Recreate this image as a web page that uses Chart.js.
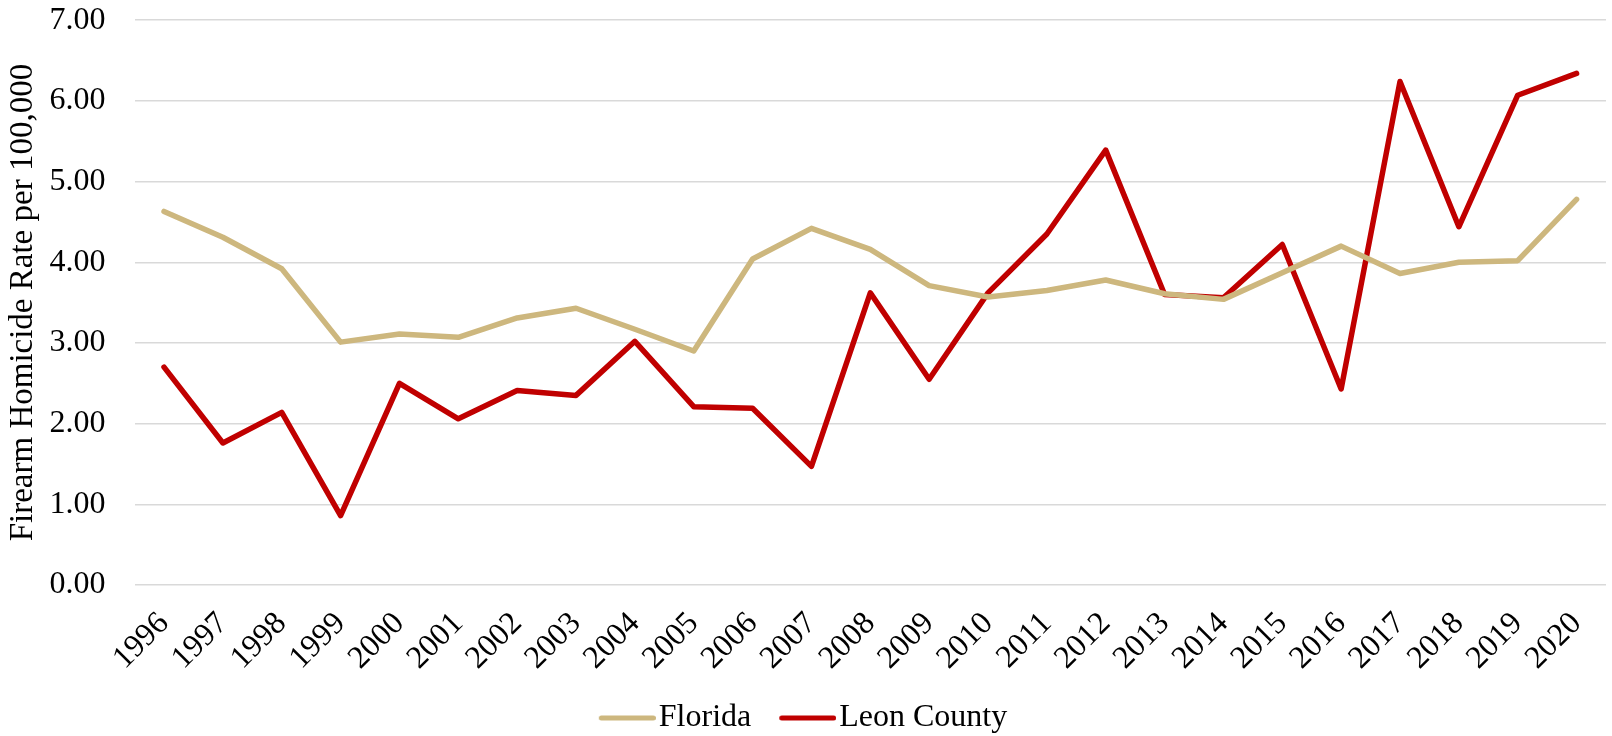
<!DOCTYPE html>
<html>
<head>
<meta charset="utf-8">
<script src="https://cdn.jsdelivr.net/npm/chart.js@4.4.1/dist/chart.umd.min.js"></script>
<style>
  html, body { margin: 0; padding: 0; background: #ffffff; }
  #wrap { width: 1612px; height: 736px; }
</style>
</head>
<body>
<div id="wrap"><canvas id="c" width="1612" height="736"></canvas></div>
<script>
const years = ["1996","1997","1998","1999","2000","2001","2002","2003","2004","2005","2006","2007","2008","2009","2010","2011","2012","2013","2014","2015","2016","2017","2018","2019","2020"];
const florida = [4.63,4.31,3.92,3.01,3.11,3.07,3.31,3.43,3.17,2.90,4.04,4.42,4.16,3.71,3.57,3.65,3.78,3.61,3.54,3.87,4.20,3.86,4.00,4.02,4.78];
const leonCounty = [2.70,1.76,2.14,0.86,2.50,2.06,2.41,2.35,3.02,2.21,2.19,1.47,3.62,2.55,3.62,4.35,5.39,3.60,3.56,4.22,2.43,6.24,4.44,6.07,6.34];
const yTicks = ["0.00","1.00","2.00","3.00","4.00","5.00","6.00","7.00"];
const seriesNames = ["Florida","Leon County"];
const axisTitle = "Firearm Homicide Rate per 100,000";

const FONT = "'Liberation Serif', 'Times New Roman', serif";
const GOLD = "#CDB77E";
const RED = "#C00000";

// legend swatch: a short thick line, placed so the text sits close to it
function legendSwatch(color) {
  const c = document.createElement('canvas');
  c.width = 70; c.height = 10;
  const g = c.getContext('2d');
  g.strokeStyle = color;
  g.lineWidth = 5;
  g.lineCap = 'round';
  g.beginPath();
  g.moveTo(15.5, 5);
  g.lineTo(67.5, 5);
  g.stroke();
  return c;
}

new Chart(document.getElementById('c'), {
  type: 'line',
  data: {
    labels: years,
    datasets: [
      { label: seriesNames[0], data: florida, borderColor: GOLD, backgroundColor: GOLD,
        borderWidth: 5.5, pointRadius: 0, pointStyle: legendSwatch(GOLD), tension: 0,
        borderCapStyle: 'round', borderJoinStyle: 'round' },
      { label: seriesNames[1], data: leonCounty, borderColor: RED, backgroundColor: RED,
        borderWidth: 5.5, pointRadius: 0, pointStyle: legendSwatch(RED), tension: 0,
        borderCapStyle: 'round', borderJoinStyle: 'round' }
    ]
  },
  options: {
    responsive: false,
    animation: false,
    layout: { padding: { left: 0, right: 6, top: 0, bottom: -8 } },
    plugins: {
      tooltip: { enabled: false },
      legend: {
        position: 'bottom',
        labels: {
          usePointStyle: true,
          pointStyleWidth: 44,
          boxWidth: 44,
          boxHeight: 10,
          padding: 28,
          color: '#000000',
          font: { family: FONT, size: 32 }
        }
      }
    },
    scales: {
      x: {
        offset: true,
        grid: { display: false, drawTicks: false },
        border: { display: false },
        afterFit: function(scale) {
          scale.height = 89;
          scale.paddingLeft = 0;
          scale.paddingRight = 0;
        },
        ticks: {
          color: '#000000',
          font: { family: FONT, size: 32 },
          maxRotation: 45, minRotation: 45,
          autoSkip: false,
          padding: 20
        }
      },
      y: {
        min: 0, max: 7,
        grid: { color: '#D9D9D9', lineWidth: 1.5, drawTicks: true, tickLength: 28, tickColor: 'rgba(0,0,0,0)' },
        border: { display: false },
        ticks: {
          stepSize: 1,
          color: '#000000',
          padding: 1,
          font: { family: FONT, size: 32 },
          callback: function(v) { return yTicks[Math.round(v)]; }
        },
        title: {
          display: true,
          text: axisTitle,
          color: '#000000',
          font: { family: FONT, size: 33 },
          padding: { top: 4, bottom: 5 }
        }
      }
    }
  }
});
</script>
</body>
</html>
